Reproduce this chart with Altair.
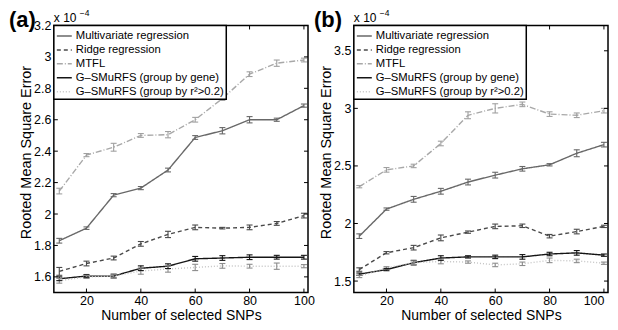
import altair as alt
import pandas as pd

snps = [10, 20, 30, 40, 50, 60, 70, 80, 90, 100]
series_names = [
    "Multivariate regression",
    "Ridge regression",
    "MTFL",
    "G–SMuRFS (group by gene)",
    "G–SMuRFS (group by r²>0.2)",
]
line_colors = ["#686868", "#4a4a4a", "#a8a8a8", "#151515", "#c4c4c4"]
err_colors = ["#686868", "#4a4a4a", "#a0a0a0", "#151515", "#8c8c8c"]
dashes = [[1, 0], [4, 3], [6, 2, 1, 2], [1, 0], [1, 2]]

# Panel (a) values (x 1e-4)
a_mv = [1.83, 1.91, 2.12, 2.165, 2.28, 2.487, 2.53, 2.60, 2.60, 2.69]
a_ridge = [1.635, 1.685, 1.72, 1.81, 1.87, 1.915, 1.91, 1.915, 1.94, 1.99]
a_mtfl = [2.146, 2.375, 2.425, 2.50, 2.505, 2.60, 2.735, 2.89, 2.96, 2.98]
a_gene = [1.588, 1.605, 1.605, 1.655, 1.668, 1.715, 1.72, 1.725, 1.725, 1.725]
a_r2 = [1.575, 1.60, 1.605, 1.637, 1.65, 1.66, 1.67, 1.668, 1.668, 1.668]
a_mv_err = [0.015, 0.008, 0.01, 0.01, 0.012, 0.012, 0.02, 0.02, 0.01, 0.01]
a_ridge_err = [0.025, 0.015, 0.012, 0.015, 0.02, 0.015, 0.005, 0.015, 0.012, 0.015]
a_mtfl_err = [0.018, 0.01, 0.025, 0.012, 0.02, 0.015, 0.012, 0.015, 0.02, 0.012]
a_gene_err = [0.012, 0.01, 0.012, 0.015, 0.015, 0.015, 0.015, 0.015, 0.012, 0.012]
a_r2_err = [0.015, 0.01, 0.012, 0.02, 0.02, 0.02, 0.015, 0.012, 0.02, 0.01]

# Panel (b) values (x 1e-4)
b_mv = [1.89, 2.125, 2.21, 2.28, 2.36, 2.42, 2.475, 2.51, 2.61, 2.685]
b_ridge = [1.60, 1.746, 1.79, 1.875, 1.925, 1.975, 1.98, 1.89, 1.93, 1.975]
b_mtfl = [2.32, 2.466, 2.50, 2.695, 2.94, 3.00, 3.035, 2.95, 2.94, 2.98]
b_gene = [1.56, 1.60, 1.66, 1.70, 1.71, 1.71, 1.71, 1.735, 1.745, 1.725]
b_r2 = [1.54, 1.615, 1.66, 1.67, 1.665, 1.64, 1.65, 1.68, 1.675, 1.655]
b_mv_err = [0.02, 0.01, 0.025, 0.025, 0.025, 0.025, 0.02, 0.01, 0.03, 0.02]
b_ridge_err = [0.015, 0.01, 0.02, 0.025, 0.01, 0.02, 0.015, 0.015, 0.02, 0.01]
b_mtfl_err = [0.01, 0.02, 0.015, 0.02, 0.03, 0.04, 0.02, 0.02, 0.02, 0.02]
b_gene_err = [0.01, 0.01, 0.02, 0.02, 0.01, 0.015, 0.02, 0.015, 0.02, 0.01]
b_r2_err = [0.01, 0.01, 0.015, 0.02, 0.01, 0.015, 0.015, 0.02, 0.015, 0.01]

x_ticks = [20, 40, 60, 80, 100]
a_y_ticks = [1.6, 1.8, 2.0, 2.2, 2.4, 2.6, 2.8, 3.0, 3.2]
b_y_ticks = [1.5, 2.0, 2.5, 3.0, 3.5]

W, H = 255, 268
FONT = "Liberation Sans"


def build_df(vals, errs):
    rows = []
    for i, name in enumerate(series_names):
        for x, v, e in zip(snps, vals[i], errs[i]):
            rows.append({"snps": x, "rmse": v, "lo": v - e, "hi": v + e,
                         "series": name, "ecol": err_colors[i]})
    return pd.DataFrame(rows)


def panel(vals, errs, ydom, yticks, tag, tag_dx, last_right):
    df = build_df(vals, errs)
    xs = alt.Scale(domain=[8, 101.5], nice=False, zero=False)
    ys = alt.Scale(domain=ydom, nice=False, zero=False)
    xkw = dict(values=x_ticks, title="Number of selected SNPs", ticks=False,
               domain=False, grid=False, labelPadding=2, titlePadding=1.5,
               titleFontSize=14)
    if last_right:
        xkw["labelAlign"] = {"condition": {"test": "datum.value >= 100", "value": "right"},
                             "value": "center"}
    xaxis = alt.Axis(**xkw)
    yaxis = alt.Axis(values=yticks, format="~g", title="Rooted Mean Square Error",
                     ticks=False, domain=False, grid=False, labelPadding=3,
                     titleX=-27, titleY=127, titleBaseline="middle", titleFontSize=14.5)

    def X(field="snps"):
        return alt.X(f"{field}:Q", scale=xs, axis=xaxis)

    def Y(field="rmse"):
        return alt.Y(f"{field}:Q", scale=ys, axis=yaxis)

    base = alt.Chart(df)
    lines = base.mark_line(strokeWidth=1.4).encode(
        x=X(), y=Y(),
        color=alt.Color("series:N", scale=alt.Scale(domain=series_names, range=line_colors),
                        legend=alt.Legend(title=None)),
        strokeDash=alt.StrokeDash("series:N", scale=alt.Scale(domain=series_names, range=dashes),
                                  legend=alt.Legend(title=None)),
    )
    bars = base.mark_rule(strokeWidth=1.1).encode(
        x=X(), y=Y("lo"), y2="hi:Q", stroke=alt.Stroke("ecol:N", scale=None))
    cap_lo = base.mark_rule(strokeWidth=1.1, xOffset=-3, x2Offset=3).encode(
        x=X(), x2="snps:Q", y=Y("lo"), stroke=alt.Stroke("ecol:N", scale=None))
    cap_hi = base.mark_rule(strokeWidth=1.1, xOffset=-3, x2Offset=3).encode(
        x=X(), x2="snps:Q", y=Y("hi"), stroke=alt.Stroke("ecol:N", scale=None))

    xt = alt.Chart(pd.DataFrame({"snps": x_ticks}))
    yt = alt.Chart(pd.DataFrame({"rmse": yticks}))
    tick_b = xt.mark_rule(color="black").encode(x=X(), y=alt.value(H), y2=alt.value(H - 4))
    tick_t = xt.mark_rule(color="black").encode(x=X(), y=alt.value(0), y2=alt.value(4))
    tick_l = yt.mark_rule(color="black").encode(y=Y(), x=alt.value(0), x2=alt.value(4))
    tick_r = yt.mark_rule(color="black").encode(y=Y(), x=alt.value(W), x2=alt.value(W - 4))

    tag_txt = alt.Chart(pd.DataFrame({"t": [tag]})).mark_text(
        font=FONT, fontSize=22, fontWeight="bold", align="left", baseline="top",
        color="black").encode(x=alt.value(tag_dx), y=alt.value(-15), text="t:N")
    exp1 = alt.Chart(pd.DataFrame({"t": ["x 10"]})).mark_text(
        font=FONT, fontSize=12, align="left", baseline="alphabetic", color="black"
    ).encode(x=alt.value(0), y=alt.value(-3), text="t:N")
    exp2 = alt.Chart(pd.DataFrame({"t": ["−4"]})).mark_text(
        font=FONT, fontSize=8.5, align="left", baseline="alphabetic", color="black"
    ).encode(x=alt.value(26), y=alt.value(-9), text="t:N")

    return alt.layer(lines, bars, cap_lo, cap_hi, tick_b, tick_t, tick_l, tick_r,
                     tag_txt, exp1, exp2).properties(width=W, height=H)


a_vals = [a_mv, a_ridge, a_mtfl, a_gene, a_r2]
a_errs = [a_mv_err, a_ridge_err, a_mtfl_err, a_gene_err, a_r2_err]
b_vals = [b_mv, b_ridge, b_mtfl, b_gene, b_r2]
b_errs = [b_mv_err, b_ridge_err, b_mtfl_err, b_gene_err, b_r2_err]

pa = panel(a_vals, a_errs, [1.5, 3.2], a_y_ticks, "(a)", -45, False)
pb = panel(b_vals, b_errs, [1.4, 3.72], b_y_ticks, "(b)", -40, True)

chart = alt.hconcat(pa, pb, spacing=46, bounds="flush").resolve_scale(
    color="independent", strokeDash="independent", x="independent", y="independent"
).resolve_legend(color="independent", strokeDash="independent").properties(
    padding=0
).configure_view(stroke="black", strokeWidth=1.5).configure_axis(
    labelFont=FONT, labelFontSize=12.5, labelColor="black",
    titleFont=FONT, titleFontWeight="normal", titleColor="black"
).configure_legend(
    orient="top-left", offset=0, strokeColor="black", strokeWidth=1.5,
    fillColor="white", padding=2, labelFontSize=11.3, labelFont=FONT,
    labelColor="black", symbolType="stroke", symbolSize=225,
    symbolStrokeWidth=1.5, rowPadding=-1.2, labelOffset=3, cornerRadius=0,
    labelLimit=300
)

chart.save("out.html", embed_options={"renderer": "svg", "actions": False})
